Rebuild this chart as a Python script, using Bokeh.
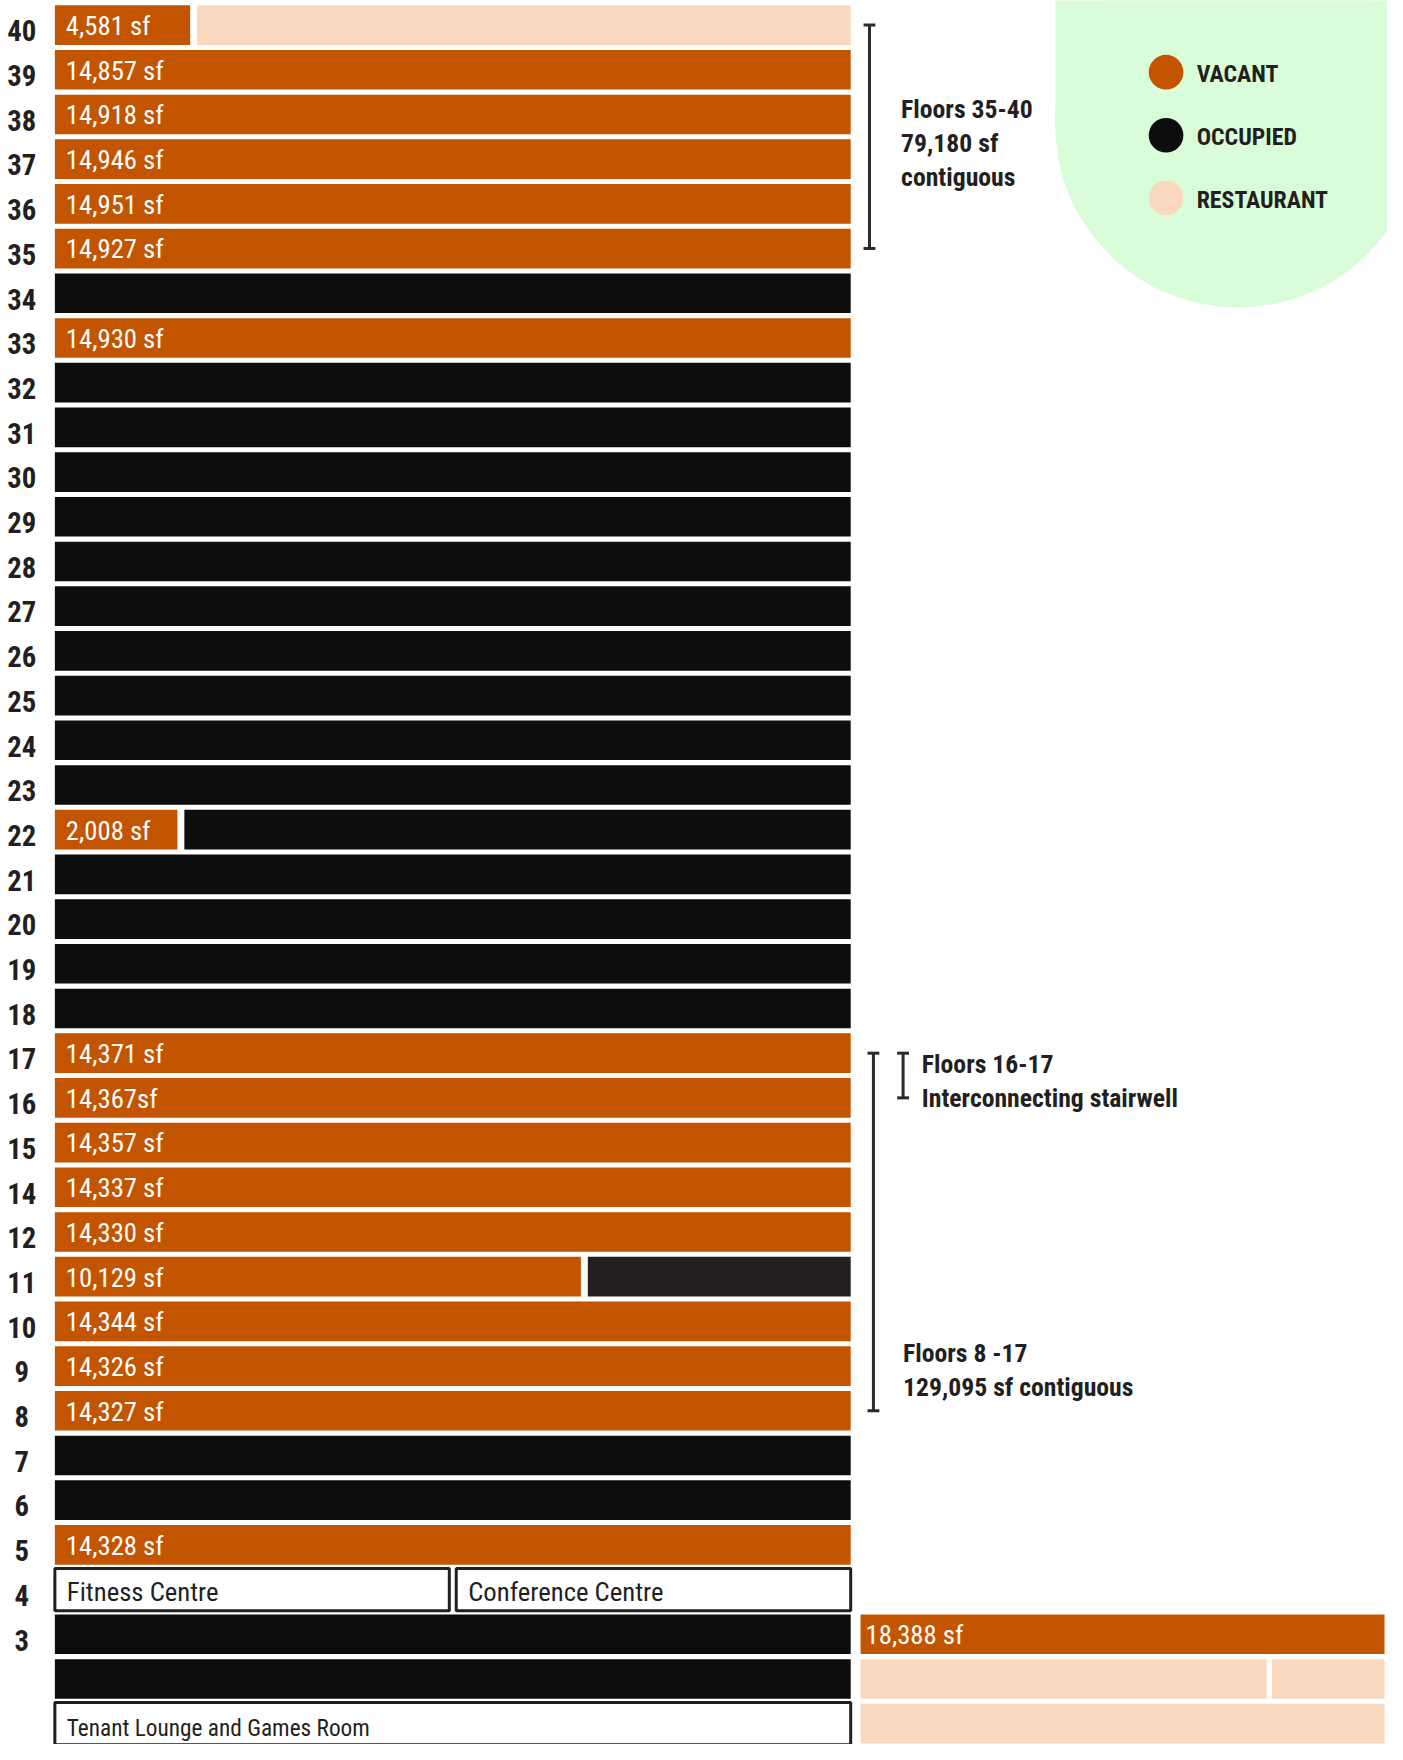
from bokeh.plotting import figure
from bokeh.models import Range1d, ColumnDataSource
from bokeh.core.properties import value
from bokeh.embed import file_html
from bokeh.resources import INLINE

# ---------------- data ----------------
row_ids = ["40", "39", "38", "37", "36", "35", "34", "33", "32", "31", "30", "29",
           "28", "27", "26", "25", "24", "23", "22", "21", "20", "19", "18", "17",
           "16", "15", "14", "12", "11", "10", "9", "8", "7", "6", "5", "4", "3",
           "P2", "P1"]
row_labels = ["40", "39", "38", "37", "36", "35", "34", "33", "32", "31", "30", "29",
              "28", "27", "26", "25", "24", "23", "22", "21", "20", "19", "18", "17",
              "16", "15", "14", "12", "11", "10", "9", "8", "7", "6", "5", "4", "3",
              "", ""]

vacant_floors = ["39", "38", "37", "36", "35", "33", "17", "16", "15", "14", "12",
                 "10", "9", "8", "5"]
vacant_sf = ["14,857 sf", "14,918 sf", "14,946 sf", "14,951 sf", "14,927 sf",
             "14,930 sf", "14,371 sf", "14,367sf", "14,357 sf", "14,337 sf",
             "14,330 sf", "14,344 sf", "14,326 sf", "14,327 sf", "14,328 sf"]

occupied_floors = ["34", "32", "31", "30", "29", "28", "27", "26", "25", "24", "23",
                   "21", "20", "19", "18", "7", "6", "3", "P2"]

partial_floors = ["40", "22", "11"]
partial_sf = ["4,581 sf", "2,008 sf", "10,129 sf"]
partial_vacant_share = [0.170, 0.154, 0.661]
partial_other_use = ["restaurant", "occupied", "occupied_alt"]

amenity_floors = ["4", "4", "P1"]
amenity_names = ["Fitness Centre", "Conference Centre", "Tenant Lounge and Games Room"]
amenity_from = [0.0, 0.5, 0.0]
amenity_to = [0.5, 1.0, 1.0]

annex_rows = ["3", "P2", "P2", "P1"]
annex_use = ["vacant", "restaurant", "restaurant", "restaurant"]
annex_from = [0.0, 0.0, 0.78, 0.0]
annex_to = [1.0, 0.78, 1.0, 1.0]
annex_sf = ["18,388 sf", "", "", ""]

group_top = ["40", "17", "17"]
group_bottom = ["35", "8", "16"]
group_lines = [["Floors 35-40", "79,180 sf", "contiguous"],
               ["Floors 8 -17", "129,095 sf contiguous"],
               ["Floors 16-17", "Interconnecting stairwell"]]

legend_labels = ["VACANT", "OCCUPIED", "RESTAURANT"]

# ---------------- styles ----------------
COLORS = {"vacant": "#C45500", "occupied": "#0D0D0D", "occupied_alt": "#231F20",
          "restaurant": "#FAD8BE"}
INK = "#231F20"
GREEN = "#D9FDD8"
FONT = value("Roboto Condensed, DejaVu Sans Condensed, Roboto, sans-serif")

PITCH = 45.11          # reference px per row
BAR_H = 40.0 / PITCH   # bar thickness in row units
UNIT = 805.0           # reference px per floor width
GAP = 7.0 / UNIT
ANNEX_X0 = 815.0 / UNIT
ANNEX_W = 530.0 / UNIT
S = 0.99               # screen px per reference px

idx = {r: i for i, r in enumerate(row_ids)}

def row_y(px):
    return (px - 24.8) / PITCH

def col_x(px):
    return (px - 55.0) / UNIT

def fs(px):
    return "%.1fpx" % (px * S)

p = figure(width=1387, height=1744,
           x_range=Range1d(col_x(0), col_x(1403)),
           y_range=Range1d(row_y(1760), row_y(0)),
           output_backend="svg", toolbar_location=None, min_border=0)
p.axis.visible = False
p.grid.visible = False
p.outline_line_color = None
p.background_fill_color = "white"

# legend background (pill shape)
p.quad(left=[col_x(1067)], right=[col_x(1500)], top=[row_y(-40)],
       bottom=[row_y(125)], fill_color=GREEN, line_color=None)
p.scatter(x=[col_x(1252)], y=[row_y(125)], size=370 * S, marker="circle",
          fill_color=GREEN, line_color=None)

# ---------------- segments ----------------
seg = dict(left=[], right=[], y=[], color=[])
labels = dict(x=[], y=[], text=[])

def add(row, x0, x1, use):
    seg["left"].append(x0)
    seg["right"].append(x1)
    seg["y"].append(idx[row])
    seg["color"].append(COLORS[use])

for f, t in zip(vacant_floors, vacant_sf):
    add(f, 0.0, 1.0, "vacant")
    labels["x"].append(0.0); labels["y"].append(idx[f]); labels["text"].append(t)

for f in occupied_floors:
    add(f, 0.0, 1.0, "occupied")

for f, t, s, u in zip(partial_floors, partial_sf, partial_vacant_share, partial_other_use):
    add(f, 0.0, s, "vacant")
    add(f, s + GAP, 1.0, u)
    labels["x"].append(0.0); labels["y"].append(idx[f]); labels["text"].append(t)

ann_lab = dict(x=[], y=[], text=[])
for r, u, a, b, t in zip(annex_rows, annex_use, annex_from, annex_to, annex_sf):
    x0 = ANNEX_X0 + a * ANNEX_W + (GAP * 0.4 if a > 0 else 0)
    x1 = ANNEX_X0 + b * ANNEX_W - (GAP * 0.4 if b < 1 else 0)
    add(r, x0, x1, u)
    if t:
        ann_lab["x"].append(x0); ann_lab["y"].append(idx[r]); ann_lab["text"].append(t)

src = ColumnDataSource(dict(left=seg["left"], right=seg["right"],
                            top=[y - BAR_H / 2 for y in seg["y"]],
                            bottom=[y + BAR_H / 2 for y in seg["y"]],
                            color=seg["color"]))
p.quad(left="left", right="right", top="top", bottom="bottom", fill_color="color",
       line_color=None, source=src)

# amenity outlined boxes
am = dict(left=[], right=[], top=[], bottom=[], x=[], y=[], text=[], size=[])
for r, n, a, b in zip(amenity_floors, amenity_names, amenity_from, amenity_to):
    x0 = a + (GAP / 2 if a > 0 else 0)
    x1 = b - (GAP / 2 if b < 1 else 0)
    y = idx[r]
    full = (a == 0 and b == 1)
    am["left"].append(x0); am["right"].append(x1)
    am["top"].append(y - BAR_H / 2 - 0.03); am["bottom"].append(y + BAR_H / 2 + 0.03)
    am["x"].append(x0)
    am["y"].append(y + (4.0 if full else 2.0) / PITCH)
    am["text"].append(n)
    am["size"].append(fs(23.5) if full else fs(27))
p.quad(left=am["left"], right=am["right"], top=am["top"], bottom=am["bottom"],
       fill_color="white", line_color=INK, line_width=3)
am_src = ColumnDataSource(dict(x=am["x"], y=am["y"], text=am["text"], size=am["size"]))
p.text(x="x", y="y", text="text", x_offset=12, text_font=FONT,
       text_font_size="size", text_color=INK, text_baseline="middle", source=am_src)

# vacant sf labels
p.text(x=labels["x"], y=[y + 0.02 for y in labels["y"]], text=labels["text"],
       x_offset=11, text_font=FONT, text_font_size=fs(27), text_color="white",
       text_baseline="middle")
p.text(x=ann_lab["x"], y=[y + 0.02 for y in ann_lab["y"]], text=ann_lab["text"],
       x_offset=5, text_font=FONT, text_font_size=fs(27), text_color="white",
       text_baseline="middle")

# floor numbers
p.text(x=[0.0] * len(row_ids), y=[i + 0.13 for i in range(len(row_ids))],
       text=row_labels, x_offset=-33, text_font=FONT, text_font_size=fs(29),
       text_font_style="bold", text_color=INK, text_align="center",
       text_baseline="middle")

# contiguous brackets
bracket_x = [col_x(879), col_x(883), col_x(913)]
text_x = [col_x(911), col_x(913), col_x(932)]
text_first = [row_y(109.5), row_y(1364.7), row_y(1072.9)]
LINE = 34.3 / PITCH
CAP = 6.0 / UNIT
for k, (a, b, lines) in enumerate(zip(group_top, group_bottom, group_lines)):
    y0, y1 = idx[a], idx[b]
    bx = bracket_x[k]
    p.segment(x0=[bx, bx - CAP, bx - CAP], y0=[y0, y0, y1],
              x1=[bx, bx + CAP, bx + CAP], y1=[y1, y0, y1],
              line_color="#2A2A2A", line_width=3)
    p.text(x=[text_x[k]] * len(lines),
           y=[text_first[k] + j * LINE for j in range(len(lines))],
           text=lines, text_font=FONT, text_font_size=fs(26),
           text_font_style="bold", text_color=INK, text_baseline="middle")

# legend
leg_y = [row_y(72.3), row_y(136.0), row_y(199.3)]
leg_x = col_x(1179)
p.scatter(x=[leg_x] * 3, y=leg_y, size=35 * S, marker="circle",
          fill_color=[COLORS["vacant"], COLORS["occupied"], COLORS["restaurant"]],
          line_color=None)
p.text(x=[col_x(1210)] * 3, y=[v + 2.0 / PITCH for v in leg_y],
       text=legend_labels, text_font=FONT, text_font_size=fs(24),
       text_font_style="bold", text_color=INK, text_baseline="middle")

open("out.html", "w").write(file_html(p, INLINE))
